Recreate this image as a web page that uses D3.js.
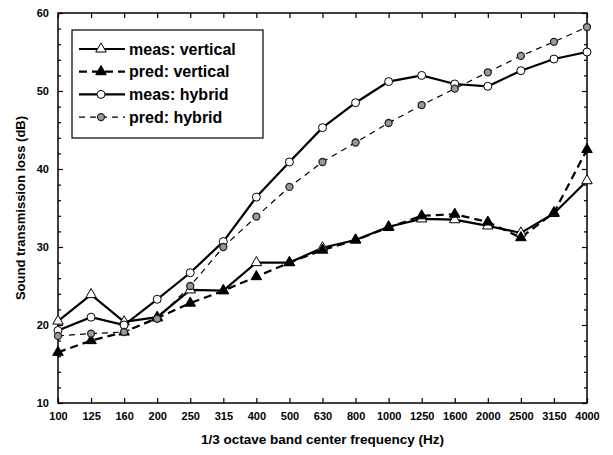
<!DOCTYPE html>
<html>
<head>
<meta charset="utf-8">
<script src="https://cdn.jsdelivr.net/npm/d3@7"></script>
<style>
  body { margin: 0; background: #fff; }
  text { font-family: Arial, "Liberation Sans", sans-serif; font-weight: bold; }
</style>
</head>
<body>
<div id="chart"></div>
<script>
// ---------- data ----------
var freqs = ["100", "125", "160", "200", "250", "315", "400", "500", "630", "800",
             "1000", "1250", "1600", "2000", "2500", "3150", "4000"]
var measVertical = [20.5, 23.9, 20.4, 21.0, 24.5, 24.4, 28.0, 28.0, 29.9, 30.9,
                    32.6, 33.6, 33.5, 32.7, 31.8, 34.3, 38.5]
var predVertical = [16.5, 18.0, 19.1, 20.9, 22.8, 24.4, 26.2, 28.0, 29.6, 30.9,
                    32.5, 34.0, 34.2, 33.2, 31.2, 34.4, 42.5]
var measHybrid = [19.3, 21.0, 20.0, 23.3, 26.7, 30.7, 36.4, 40.9, 45.3, 48.5,
                  51.2, 52.0, 50.9, 50.6, 52.6, 54.1, 55.0]
var predHybrid = [18.6, 18.9, 19.1, 20.8, 25.0, 30.0, 33.9, 37.7, 40.9, 43.4,
                  45.9, 48.2, 50.3, 52.4, 54.5, 56.3, 58.2]
var yTicks = [10, 20, 30, 40, 50, 60]

var series = [
  { name: "meas: vertical", values: measVertical, dash: null, width: 2.2, marker: "triOpen" },
  { name: "pred: vertical", values: predVertical, dash: "8,5", width: 2.2, marker: "triFill" },
  { name: "meas: hybrid", values: measHybrid, dash: null, width: 2.2, marker: "circOpen" },
  { name: "pred: hybrid", values: predHybrid, dash: "6,5", width: 1.2, marker: "circGray" }
]

// ---------- layout ----------
var W = 613, H = 455
var margin = { top: 13, right: 26, bottom: 52, left: 58 }
var width = W - margin.left - margin.right
var height = H - margin.top - margin.bottom

var svg = d3.select("#chart").append("svg")
  .attr("width", W).attr("height", H)

var g = svg.append("g")
  .attr("transform", "translate(" + margin.left + "," + margin.top + ")")

var x = d3.scalePoint().domain(freqs).range([0, width]).padding(0)
var y = d3.scaleLinear().domain([10, 60]).range([height, 0])
var minorTicks = d3.range(12, 60, 2).filter(function (d) { return d % 10 })

// ---------- axes (ticks inward on all sides) ----------
g.append("g")
  .attr("transform", "translate(0," + height + ")")
  .call(d3.axisBottom(x).tickSize(-5).tickPadding(9))
  .call(function (a) {
    a.select(".domain").remove()
    a.selectAll("text").attr("font-size", 11).attr("fill", "#000")
  })
g.append("g")
  .call(d3.axisTop(x).tickSize(-5).tickFormat(""))
  .call(function (a) { a.select(".domain").remove() })

g.append("g")
  .call(d3.axisLeft(y).tickValues(yTicks).tickSize(-5).tickPadding(9))
  .call(function (a) {
    a.select(".domain").remove()
    a.selectAll("text").attr("font-size", 11).attr("fill", "#000")
  })
g.append("g")
  .call(d3.axisLeft(y).tickValues(minorTicks).tickSize(-3).tickFormat(""))
  .call(function (a) { a.select(".domain").remove() })
g.append("g")
  .attr("transform", "translate(" + width + ",0)")
  .call(d3.axisRight(y).tickValues(yTicks).tickSize(-5).tickFormat(""))
  .call(function (a) { a.select(".domain").remove() })
g.append("g")
  .attr("transform", "translate(" + width + ",0)")
  .call(d3.axisRight(y).tickValues(minorTicks).tickSize(-3).tickFormat(""))
  .call(function (a) { a.select(".domain").remove() })

g.selectAll(".tick line").attr("stroke", "#000").attr("stroke-width", 1.2)

g.append("rect")
  .attr("width", width).attr("height", height)
  .attr("fill", "none").attr("stroke", "#000").attr("stroke-width", 1.5)

// ---------- lines ----------
var line = d3.line()
  .x(function (d, i) { return x(freqs[i]) })
  .y(function (d) { return y(d) })

series.forEach(function (s) {
  g.append("path")
    .datum(s.values)
    .attr("d", line)
    .attr("fill", "none")
    .attr("stroke", "#000")
    .attr("stroke-width", s.width)
    .attr("stroke-dasharray", s.dash)
})

function drawMarker(sel, type) {
  if (type === "triOpen" || type === "triFill") {
    sel.append("path")
      .attr("d", d3.symbol().type(d3.symbolTriangle).size(48))
      .attr("fill", type === "triOpen" ? "#fff" : "#000")
      .attr("stroke", "#000").attr("stroke-width", 1)
  } else if (type === "circOpen") {
    sel.append("circle").attr("r", 4)
      .attr("fill", "#fff").attr("stroke", "#000").attr("stroke-width", 1)
  } else {
    sel.append("circle").attr("r", 3.5)
      .attr("fill", "#999").attr("stroke", "#222").attr("stroke-width", 1.3)
  }
}

series.forEach(function (s) {
  g.append("g").selectAll("g")
    .data(s.values)
    .join("g")
    .attr("transform", function (d, i) { return "translate(" + x(freqs[i]) + "," + y(d) + ")" })
    .each(function () { drawMarker(d3.select(this), s.marker) })
})

// ---------- legend ----------
var legend = svg.append("g").attr("transform", "translate(72,30)")
legend.append("rect")
  .attr("width", 191).attr("height", 108)
  .attr("fill", "#fff").attr("stroke", "#000").attr("stroke-width", 1.2)

series.forEach(function (s, i) {
  var row = legend.append("g").attr("transform", "translate(0," + (19 + i * 22.7) + ")")
  row.append("line")
    .attr("x1", 7).attr("x2", 53)
    .attr("stroke", "#000").attr("stroke-width", s.width)
    .attr("stroke-dasharray", s.dash)
  drawMarker(row.append("g").attr("transform", "translate(29,0)"), s.marker)
  row.append("text")
    .attr("x", 57).attr("dy", "0.35em")
    .attr("font-size", 16)
    .text(s.name)
})

// ---------- titles ----------
svg.append("text")
  .attr("x", margin.left + width / 2).attr("y", 444)
  .attr("text-anchor", "middle").attr("font-size", 13.5)
  .text("1/3 octave band center frequency (Hz)")

svg.append("text")
  .attr("transform", "translate(25," + (margin.top + height / 2) + ") rotate(-90)")
  .attr("text-anchor", "middle").attr("font-size", 13)
  .text("Sound transmission loss (dB)")
</script>
</body>
</html>
